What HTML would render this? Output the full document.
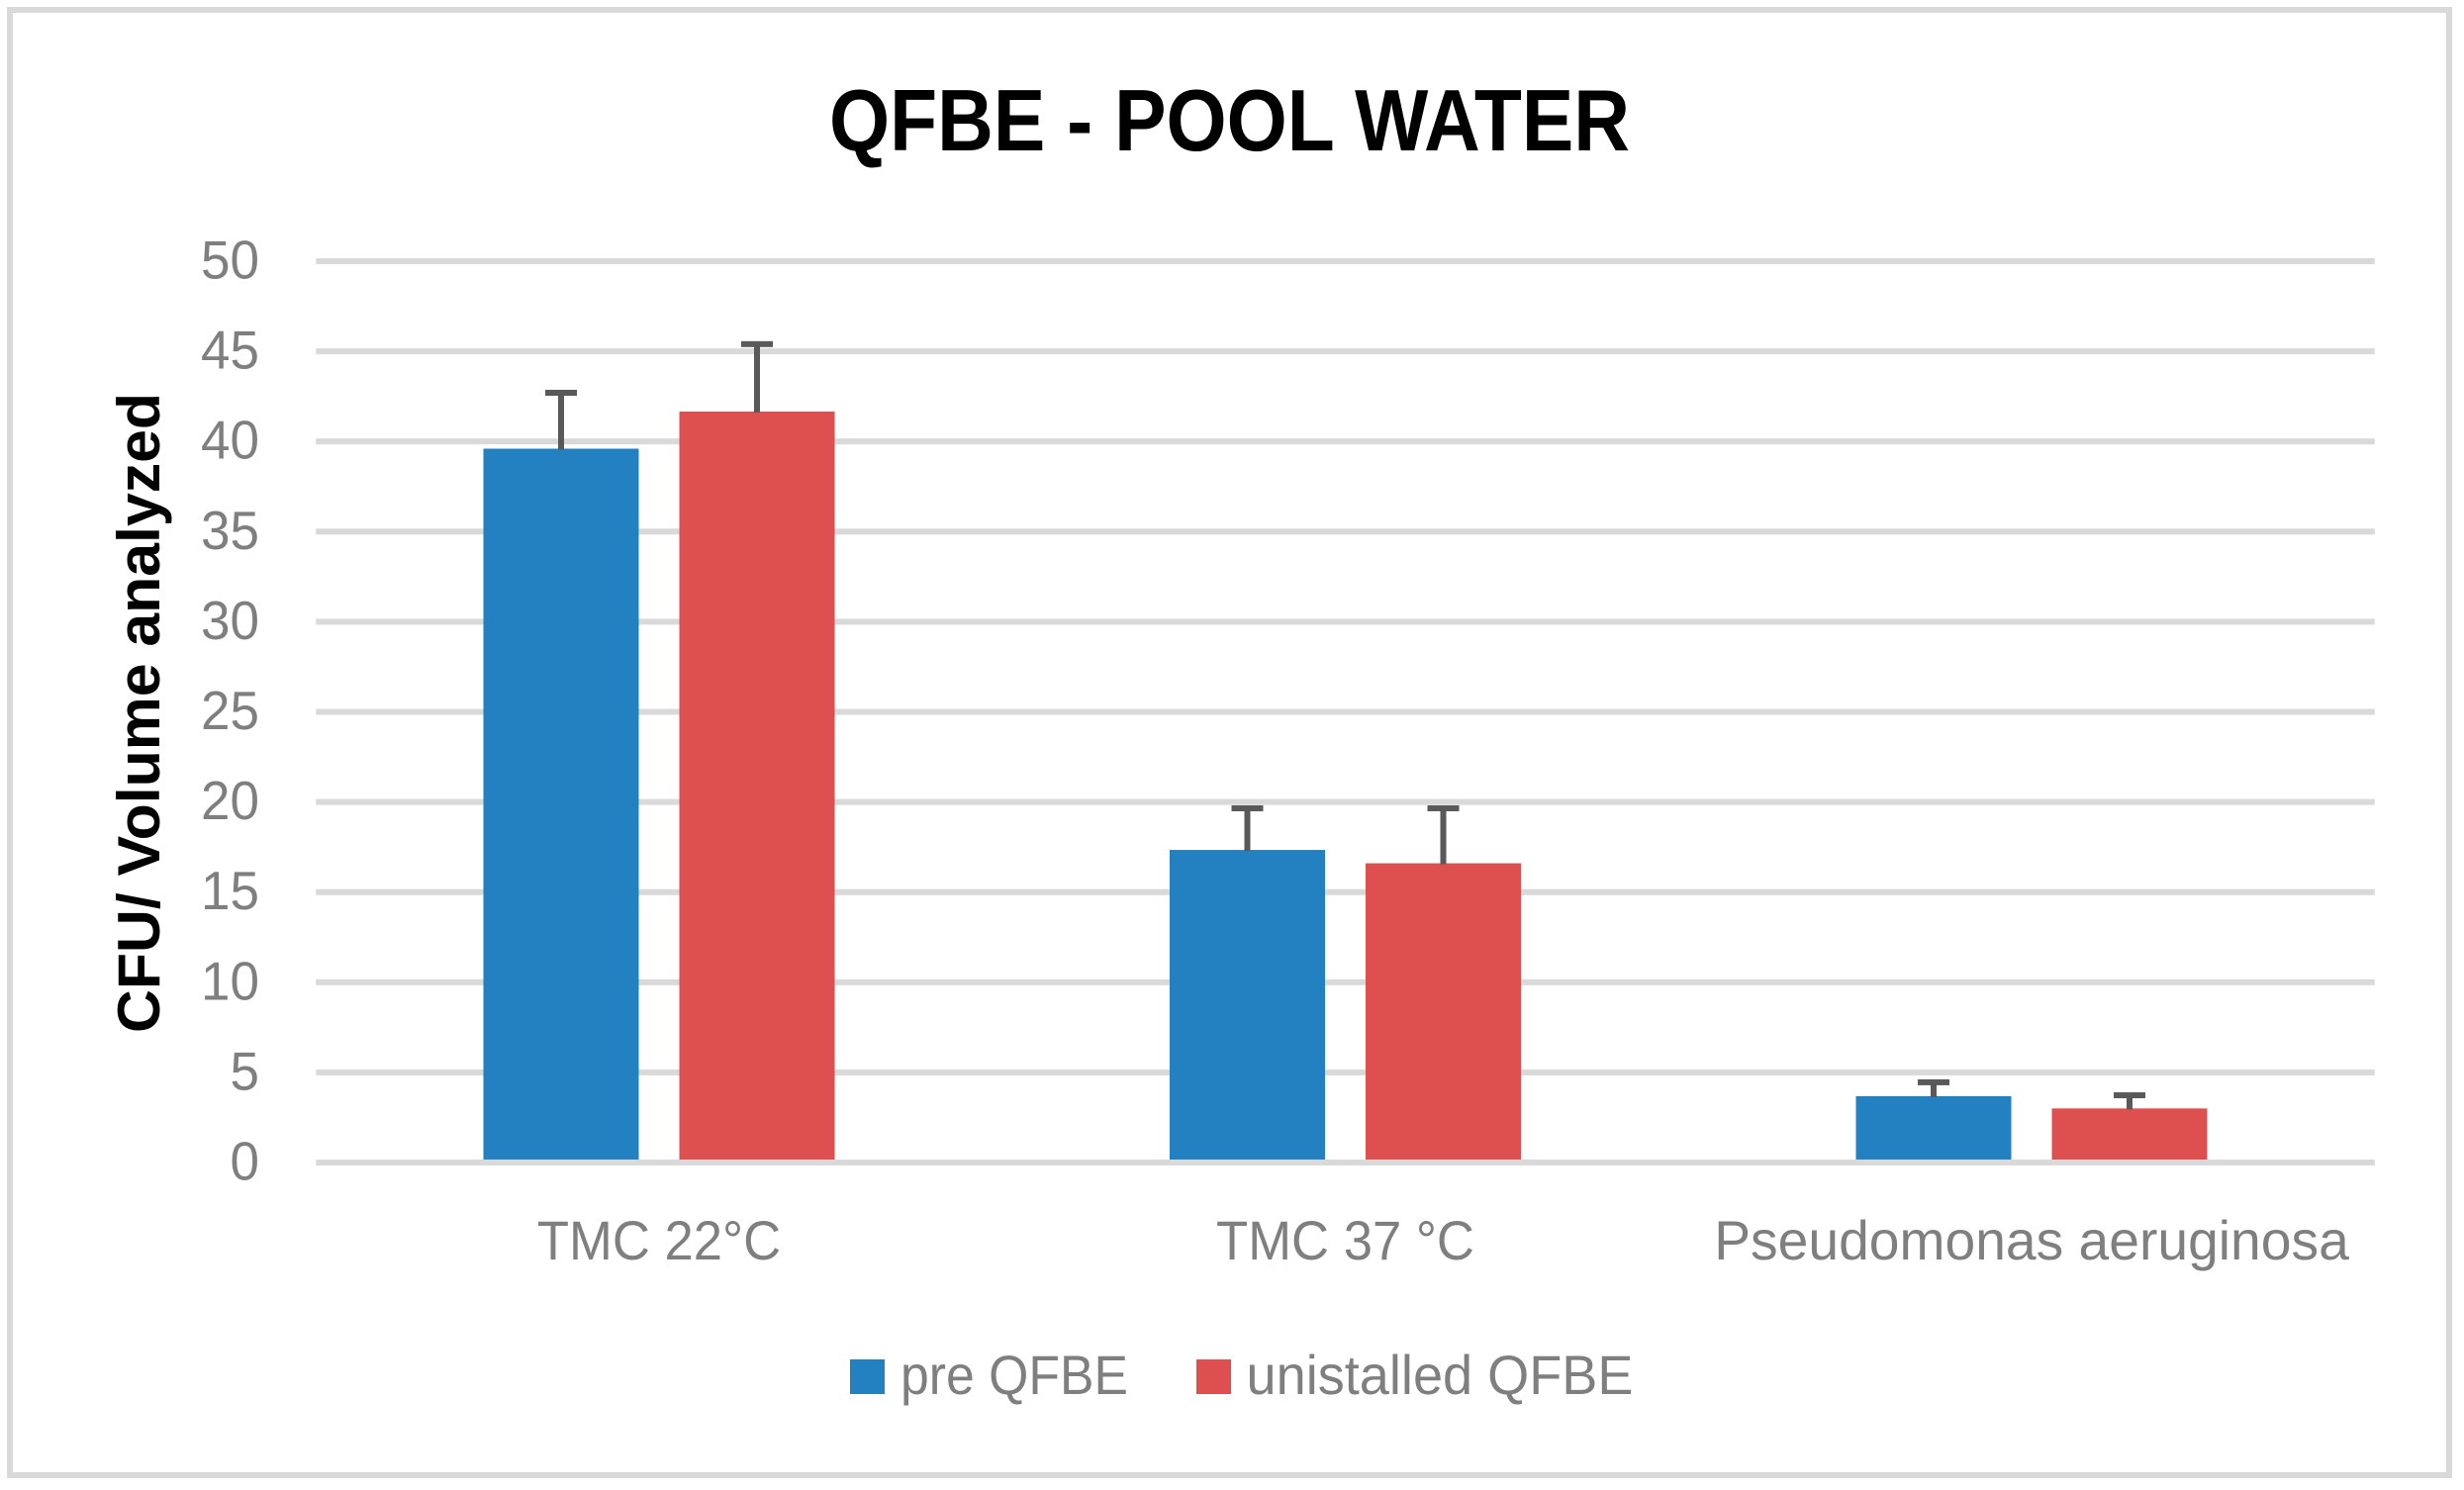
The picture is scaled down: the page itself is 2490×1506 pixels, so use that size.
<!DOCTYPE html>
<html lang="en">
<head>
<meta charset="utf-8">
<title>QFBE - Pool Water</title>
<style>
html,body{margin:0;padding:0;background:#fff;width:2490px;height:1506px;overflow:hidden}
svg{display:block}
text{font-family:"Liberation Sans",sans-serif}
</style>
</head>
<body>
<svg id="chart" xmlns="http://www.w3.org/2000/svg" width="2490" height="1506" viewBox="0 0 2490 1506">
  <rect x="10" y="10" width="2465" height="1481" fill="#fff" stroke="#d9d9d9" stroke-width="6"/>
  <text x="838" y="152" font-size="88" font-weight="700" fill="#000" textLength="809" lengthAdjust="spacingAndGlyphs">QFBE - POOL WATER</text>
  <text transform="translate(161 1044) rotate(-90)" font-size="60" font-weight="700" fill="#000" textLength="647" lengthAdjust="spacingAndGlyphs">CFU/ Volume analyzed</text>
  <g id="grid"></g>
  <g id="yticks"></g>
  <g id="bars"></g>
  <g id="errors"></g>
  <g id="axis"></g>
  <g id="xlabels"></g>
  <g>
    <rect x="859" y="1374" width="35" height="35" fill="#2481c1"/>
    <text x="910" y="1409" font-size="56" fill="#7f7f7f" textLength="230" lengthAdjust="spacingAndGlyphs">pre QFBE</text>
    <rect x="1209" y="1374" width="35" height="35" fill="#de504f"/>
    <text x="1259.5" y="1409" font-size="56" fill="#7f7f7f" textLength="391" lengthAdjust="spacingAndGlyphs">unistalled QFBE</text>
  </g>
</svg>
<script>
const categories = ["TMC 22°C", "TMC 37 °C", "Pseudomonas aeruginosa"];
const preValues = [39.6, 17.34, 3.68];
const unistalledValues = [41.66, 16.6, 3.0];
const preErrors = [3.1, 2.31, 0.77];
const unistalledErrors = [3.74, 3.05, 0.73];
const yTicks = [0, 5, 10, 15, 20, 25, 30, 35, 40, 45, 50];

const NS = "http://www.w3.org/2000/svg";
const plotLeft = 319.25, plotRight = 2399.75, baseY = 1175, topY = 264, yMax = 50;
const band = (plotRight - plotLeft) / categories.length, barW = 157, barGap = 41;
const blue = "#2481c1", red = "#de504f", errColor = "#595959", gridColor = "#d9d9d9";

function y(v) { return baseY - (v / yMax) * (baseY - topY); }
function xCenter(i) { return plotLeft + band * (i + 0.5); }
function mk(tag, parent, attrs) {
  const el = document.createElementNS(NS, tag);
  for (const k in attrs) el.setAttribute(k, attrs[k]);
  parent.appendChild(el);
  return el;
}

const gridG = document.getElementById("grid");
const tickG = document.getElementById("yticks");
yTicks.forEach(function (t) {
  if (t !== 0) {
    const line = mk("rect", gridG, { x: plotLeft, y: y(t) - 3, width: plotRight - plotLeft, height: 6, fill: gridColor });
    
    
  }
  const label = mk("text", tickG, { x: 262, y: y(t) + 17.5, "text-anchor": "end", "font-size": 55, fill: "#7f7f7f", textLength: String(t).length * 29.5, lengthAdjust: "spacingAndGlyphs" });
  label.textContent = t;
  
  
});

const barsG = document.getElementById("bars");
const errG = document.getElementById("errors");

function drawBar(value, err, left, color) {
  const bar = mk("rect", barsG, { x: left, y: y(value), width: barW, height: baseY - y(value), fill: color });
  
  
  const cx = left + barW / 2;
  const tip = y(value + err);
  const stem = mk("rect", errG, { x: cx - 3, y: tip, width: 6, height: y(value) - tip + 1, fill: errColor });
  
  
  const cap = mk("rect", errG, { x: cx - 16, y: tip - 3, width: 32, height: 6, fill: errColor });
  
  
}

categories.forEach(function (c, i) {
  const cx = xCenter(i);
  drawBar(preValues[i], preErrors[i], cx - barGap / 2 - barW, blue);
  drawBar(unistalledValues[i], unistalledErrors[i], cx + barGap / 2, red);
});

const axisLine = mk("rect", document.getElementById("axis"), { x: plotLeft, y: baseY - 3, width: plotRight - plotLeft, height: 6, fill: gridColor });



const xG = document.getElementById("xlabels");
categories.forEach(function (c, i) {
  const label = mk("text", xG, { x: xCenter(i), y: 1273, "text-anchor": "middle", "font-size": 56, fill: "#7f7f7f" });
  label.textContent = c;
  
  
  const natural = label.getComputedTextLength();
  label.setAttribute("textLength", natural * (c.indexOf("TMC") === 0 ? 0.94 : 0.986));
  label.setAttribute("lengthAdjust", "spacingAndGlyphs");
});
</script>
</body>
</html>
